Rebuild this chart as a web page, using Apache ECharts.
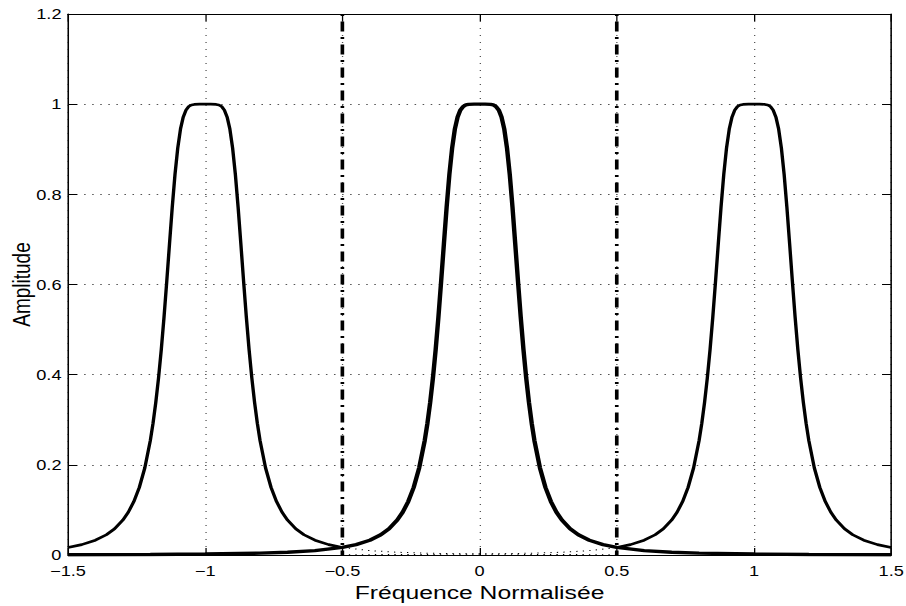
<!DOCTYPE html>
<html>
<head>
<meta charset="utf-8">
<script src="https://cdn.jsdelivr.net/npm/echarts@6/dist/echarts.min.js"></script>
<style>
html,body{margin:0;padding:0;background:#fff;overflow:hidden;}
#chart{width:697px;height:606px;transform:scaleX(1.3);transform-origin:0 0;}
</style>
</head>
<body>
<div id="chart"></div>
<script>
// Axis ticks
const xTicks = [-1.5, -1, -0.5, 0, 0.5, 1, 1.5];
const yTicks = [0, 0.2, 0.4, 0.6, 0.8, 1, 1.2];
const xLabel = 'Fréquence Normalisée';
const yLabel = 'Amplitude';

// Central spectrum (peak at 0)
const xCentre = [-1.5,-1.2,-1.0,-0.8,-0.7,-0.6,-0.5,-0.45,-0.4,-0.36,-0.33,-0.3,-0.28,-0.26,-0.24,-0.22,-0.2,-0.19,-0.18,-0.17,-0.16,-0.15,-0.14,-0.13,-0.12,-0.11,-0.1,-0.09,-0.08,-0.07,-0.06,-0.05,-0.04,-0.02,0,0.02,0.04,0.05,0.06,0.07,0.08,0.09,0.1,0.11,0.12,0.13,0.14,0.15,0.16,0.17,0.18,0.19,0.2,0.22,0.24,0.26,0.28,0.3,0.33,0.36,0.4,0.45,0.5,0.6,0.7,0.8,1.0,1.2,1.5];
const yCentre = [0.0006,0.0012,0.0021,0.0041,0.0061,0.0097,0.0168,0.023,0.0328,0.0449,0.0582,0.0775,0.0951,0.1185,0.15,0.1933,0.2536,0.2924,0.3384,0.3926,0.4557,0.5278,0.6073,0.6903,0.7716,0.8443,0.9026,0.9448,0.9714,0.9869,0.9948,0.9982,0.9995,1,1,1,0.9995,0.9982,0.9948,0.9869,0.9714,0.9448,0.9026,0.8443,0.7716,0.6903,0.6073,0.5278,0.4557,0.3926,0.3384,0.2924,0.2536,0.1933,0.15,0.1185,0.0951,0.0775,0.0582,0.0449,0.0328,0.023,0.0168,0.0097,0.0061,0.0041,0.0021,0.0012,0.0006];

// Replica at -1 (solid part, outside [-0.5, 0.5])
const xGauche = [-1.5,-1.45,-1.4,-1.36,-1.33,-1.3,-1.28,-1.26,-1.24,-1.22,-1.2,-1.19,-1.18,-1.17,-1.16,-1.15,-1.14,-1.13,-1.12,-1.11,-1.1,-1.09,-1.08,-1.07,-1.06,-1.05,-1.04,-1.02,-1,-0.98,-0.96,-0.95,-0.94,-0.93,-0.92,-0.91,-0.9,-0.89,-0.88,-0.87,-0.86,-0.85,-0.84,-0.83,-0.82,-0.81,-0.8,-0.78,-0.76,-0.74,-0.72,-0.7,-0.67,-0.64,-0.6,-0.55,-0.5];
const yGauche = [0.0168,0.023,0.0328,0.0449,0.0582,0.0775,0.0951,0.1185,0.15,0.1933,0.2536,0.2924,0.3384,0.3926,0.4557,0.5278,0.6073,0.6903,0.7716,0.8443,0.9026,0.9448,0.9714,0.9869,0.9948,0.9982,0.9995,1,1,1,0.9995,0.9982,0.9948,0.9869,0.9714,0.9448,0.9026,0.8443,0.7716,0.6903,0.6073,0.5278,0.4557,0.3926,0.3384,0.2924,0.2536,0.1933,0.15,0.1185,0.0951,0.0775,0.0582,0.0449,0.0328,0.023,0.0168];

// Replica at +1 (solid part)
const xDroite = [0.5,0.55,0.6,0.64,0.67,0.7,0.72,0.74,0.76,0.78,0.8,0.81,0.82,0.83,0.84,0.85,0.86,0.87,0.88,0.89,0.9,0.91,0.92,0.93,0.94,0.95,0.96,0.98,1,1.02,1.04,1.05,1.06,1.07,1.08,1.09,1.1,1.11,1.12,1.13,1.14,1.15,1.16,1.17,1.18,1.19,1.2,1.22,1.24,1.26,1.28,1.3,1.33,1.36,1.4,1.45,1.5];
const yDroite = [0.0168,0.023,0.0328,0.0449,0.0582,0.0775,0.0951,0.1185,0.15,0.1933,0.2536,0.2924,0.3384,0.3926,0.4557,0.5278,0.6073,0.6903,0.7716,0.8443,0.9026,0.9448,0.9714,0.9869,0.9948,0.9982,0.9995,1,1,1,0.9995,0.9982,0.9948,0.9869,0.9714,0.9448,0.9026,0.8443,0.7716,0.6903,0.6073,0.5278,0.4557,0.3926,0.3384,0.2924,0.2536,0.1933,0.15,0.1185,0.0951,0.0775,0.0582,0.0449,0.0328,0.023,0.0168];

// Replica tails inside [-0.5, 0.5] (dotted)
const xQueueG = [-0.5,-0.4,-0.3,-0.2,0,0.2,0.5];
const yQueueG = [0.0168,0.0097,0.0061,0.0041,0.0021,0.0012,0.0006];
const xQueueD = [-0.5,-0.2,0,0.2,0.3,0.4,0.5];
const yQueueD = [0.0006,0.0012,0.0021,0.0041,0.0061,0.0097,0.0168];

// Nyquist limits
const nyquist = [-0.5, 0.5];
const yLimits = [1.2, 0];

const zip = (xs, ys) => xs.map((x, i) => [x, ys[i]]);
const FONT = '"Liberation Sans", Arial, Helvetica, sans-serif';
const fmtMinus = v => String(+v.toFixed(2)).replace('-', '\u2212');

const chart = echarts.init(document.getElementById('chart'), null, {renderer: 'svg'});

const gridLine = (dash) => ({show: true, lineStyle: {color: '#555', width: 1, type: dash}});

const series = [
  {type: 'line', data: zip(xGauche, yGauche), lineStyle: {color: '#000', width: 2.6}},
  {type: 'line', data: zip(xDroite, yDroite), lineStyle: {color: '#000', width: 2.6}},
  {type: 'line', data: zip(xQueueG, yQueueG), lineStyle: {color: '#000', width: 1, type: [1, 4]}},
  {type: 'line', data: zip(xQueueD, yQueueD), lineStyle: {color: '#000', width: 1, type: [1, 4]}},
  {type: 'line', data: zip(xCentre, yCentre), lineStyle: {color: '#000', width: 3.4}}
].map(s => Object.assign(s, {showSymbol: false, symbol: 'none', smooth: false, z: 3}));

nyquist.forEach(f => {
  series.push({
    type: 'line', symbol: 'none', z: 4,
    data: yLimits.map(y => [f, y]),
    lineStyle: {color: '#000', width: 2.8, type: [2, 5.5, 10, 5.5]}
  });
});

chart.setOption({
  animation: false,
  backgroundColor: '#fff',
  grid: {left: 52.3, right: 11.5, top: 14, bottom: 51, containLabel: false, outerBoundsMode: 'none'},
  xAxis: [{
    type: 'value', min: -1.5, max: 1.5, interval: 0.5, position: 'bottom',
    name: xLabel, nameLocation: 'middle', nameGap: 26,
    nameTextStyle: {fontFamily: FONT, fontSize: 19, color: '#000'},
    axisLine: {show: true, onZero: false, lineStyle: {color: '#000', width: 1.2}},
    axisTick: {show: true, inside: true, length: 7, lineStyle: {color: '#000'}},
    axisLabel: {fontFamily: FONT, fontSize: 14, color: '#000', margin: 9, formatter: fmtMinus},
    splitLine: gridLine([1, 6])
  }, {
    type: 'value', min: -1.5, max: 1.5, interval: 0.5, position: 'top',
    axisLine: {show: true, onZero: false, lineStyle: {color: '#000', width: 1.2}},
    axisTick: {show: true, inside: true, length: 7, lineStyle: {color: '#000'}},
    axisLabel: {show: false}, splitLine: {show: false}
  }],
  yAxis: [{
    type: 'value', min: 0, max: 1.2, interval: 0.2, position: 'left',
    name: yLabel, nameLocation: 'middle', nameGap: 26, nameMoveOverlap: false,
    nameTextStyle: {fontFamily: FONT, fontSize: 19, color: '#000'},
    axisLine: {show: true, onZero: false, lineStyle: {color: '#000', width: 1.2}},
    axisTick: {show: true, inside: true, length: 7, lineStyle: {color: '#000'}},
    axisLabel: {fontFamily: FONT, fontSize: 14, color: '#000', margin: 5, formatter: fmtMinus},
    splitLine: gridLine([1.2, 5])
  }, {
    type: 'value', min: 0, max: 1.2, interval: 0.2, position: 'right',
    axisLine: {show: true, onZero: false, lineStyle: {color: '#000', width: 1.2}},
    axisTick: {show: true, inside: true, length: 7, lineStyle: {color: '#000'}},
    axisLabel: {show: false}, splitLine: {show: false}
  }],
  series: series
});
</script>
</body>
</html>
